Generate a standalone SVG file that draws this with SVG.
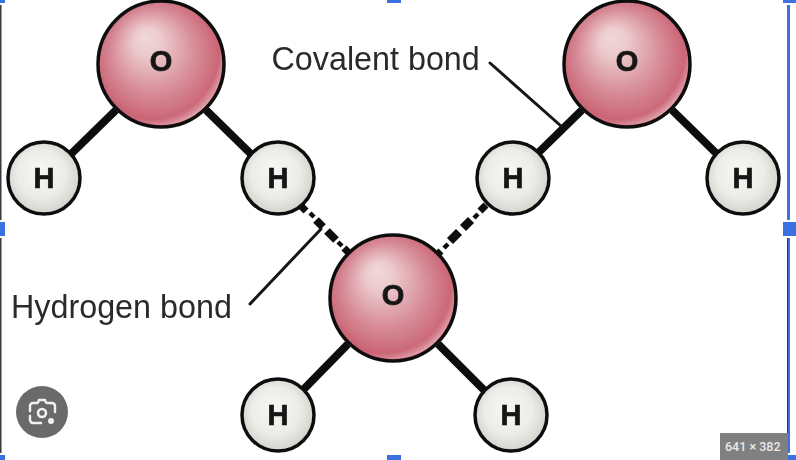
<svg xmlns="http://www.w3.org/2000/svg" width="796" height="460" viewBox="0 0 796 460">
<style>
.o{fill:url(#og);stroke:#111;stroke-width:3.5}
.orim{fill:url(#orim)}
.h{fill:url(#hg);stroke:#111;stroke-width:3.5}
.bond{stroke:#0c0c0c;stroke-width:8;stroke-linecap:butt}
.leader{stroke:#151515;stroke-width:3;stroke-linecap:round;fill:none}
.atom{font-family:"Liberation Sans",Arial,sans-serif;font-weight:700;font-size:29px;fill:#151515;stroke:#151515;stroke-width:0.7;text-anchor:middle}
.label{font-family:"Liberation Sans",Arial,sans-serif;font-size:32.3px;fill:#2c2c2c}
.handle{fill:#3a70e0}
.edge{fill:#3a3a3a}
</style>
<defs>
<radialGradient id="og" cx="0.5" cy="0.5" r="0.62" fx="0.37" fy="0.28">
<stop offset="0" stop-color="#f0d8da"/>
<stop offset="0.18" stop-color="#eccacd"/>
<stop offset="0.55" stop-color="#d68a96"/>
<stop offset="0.85" stop-color="#c85c6e"/>
<stop offset="1" stop-color="#c4566a"/>
</radialGradient>
<radialGradient id="orim" cx="0.42" cy="0.4" r="0.66">
<stop offset="0.84" stop-color="#f2d8da" stop-opacity="0"/>
<stop offset="1" stop-color="#f2d8da" stop-opacity="0.85"/>
</radialGradient>
<radialGradient id="hg" cx="0.5" cy="0.5" r="0.6" fx="0.42" fy="0.36">
<stop offset="0" stop-color="#f6f6f3"/>
<stop offset="0.55" stop-color="#ecece8"/>
<stop offset="1" stop-color="#c9c9c3"/>
</radialGradient>
<filter id="soft" x="-5%" y="-5%" width="110%" height="110%"><feGaussianBlur stdDeviation="0.55"/></filter>
</defs>
<rect width="796" height="460" fill="#fff"/>
<g filter="url(#soft)">
<g id="connectors">
<line class="bond" x1="116" y1="110" x2="71" y2="154"/>
<line class="bond" x1="206" y1="110" x2="252" y2="155"/>
<line class="bond" x1="582" y1="110" x2="537" y2="154"/>
<line class="bond" x1="672" y1="110" x2="718" y2="155"/>
<line class="bond" x1="348" y1="344" x2="303" y2="390"/>
<line class="bond" x1="438" y1="344" x2="485" y2="391"/>
<g id="hbond-left" stroke="#0c0c0c">
<line x1="300" y1="205" x2="306" y2="211" stroke-width="7"/>
<line x1="310" y1="213" x2="314" y2="217" stroke-width="4.5"/>
<line x1="316" y1="220" x2="323" y2="227" stroke-width="8"/>
<line x1="327" y1="231" x2="336" y2="240" stroke-width="8"/>
<line x1="338" y1="242" x2="342" y2="246" stroke-width="4.5"/>
<line x1="344" y1="248" x2="350" y2="254" stroke-width="7"/>
</g>
<g id="hbond-right" stroke="#0c0c0c">
<line x1="486" y1="205" x2="480" y2="211" stroke-width="7"/>
<line x1="478" y1="214" x2="474" y2="218" stroke-width="4.5"/>
<line x1="471" y1="220" x2="463" y2="228" stroke-width="8.5"/>
<line x1="459" y1="232" x2="450" y2="241" stroke-width="8.5"/>
<line x1="448" y1="244" x2="444" y2="248" stroke-width="4.5"/>
<line x1="441" y1="251" x2="436" y2="256" stroke-width="7"/>
</g>
<line class="leader" x1="490" y1="63" x2="561" y2="126"/>
<line class="leader" x1="250" y1="304" x2="321" y2="229"/>
</g>
<g id="o-top-left"><circle class="o" cx="161" cy="64" r="63"/><circle class="orim" cx="161" cy="64" r="61"/><text class="atom" x="161" y="71">O</text></g>
<g id="h-top-left-1"><circle class="h" cx="44" cy="178" r="36"/><text class="atom" x="44" y="188">H</text></g>
<g id="h-top-left-2"><circle class="h" cx="278" cy="178" r="36"/><text class="atom" x="278" y="188">H</text></g>
<g id="o-top-right"><circle class="o" cx="627" cy="64" r="63"/><circle class="orim" cx="627" cy="64" r="61"/><text class="atom" x="627" y="71">O</text></g>
<g id="h-top-right-1"><circle class="h" cx="513" cy="178" r="36"/><text class="atom" x="513" y="188">H</text></g>
<g id="h-top-right-2"><circle class="h" cx="743" cy="178" r="36"/><text class="atom" x="743" y="188">H</text></g>
<g id="o-center"><circle class="o" cx="393" cy="298" r="63"/><circle class="orim" cx="393" cy="298" r="61"/><text class="atom" x="393" y="305">O</text></g>
<g id="h-bottom-1"><circle class="h" cx="278" cy="415" r="36"/><text class="atom" x="278" y="425">H</text></g>
<g id="h-bottom-2"><circle class="h" cx="511" cy="415" r="36"/><text class="atom" x="511" y="425">H</text></g>
<g id="labels">
<text class="label" x="271.5" y="70">Covalent bond</text>
<text class="label" x="11" y="318">Hydrogen bond</text>
</g>
</g>
<g id="selection-frame">
<rect class="edge" x="0" y="5" width="1.5" height="215"/>
<rect class="edge" x="0" y="238" width="1.5" height="215"/>
<rect class="handle" x="787" y="5" width="3" height="215"/>
<rect class="handle" x="787" y="238" width="3" height="215"/>
<rect class="edge" x="787" y="238" width="1" height="215"/>
<rect class="handle" x="0" y="0" width="5" height="3"/>
<rect class="handle" x="387" y="0" width="14" height="3"/>
<rect class="handle" x="783" y="0" width="13" height="3"/>
<rect class="handle" x="0" y="222" width="5" height="14"/>
<rect class="handle" x="783" y="222" width="13" height="14"/>
<rect class="handle" x="0" y="455" width="5" height="5"/>
<rect class="handle" x="387" y="455" width="14" height="5"/>
<rect class="handle" x="783" y="455" width="13" height="5"/>
</g>
<g id="lens-button">
<circle cx="42" cy="412" r="26" fill="#6a6a6a"/>
<path d="M37 403h-4a3 3 0 0 0-3 3v5M47 403h5a3 3 0 0 1 3 3v6M30 416v4a3 3 0 0 0 3 3h8M38 402.500l1-2.500h6l1 2.500" fill="none" stroke="#f2f2f2" stroke-width="2.4" stroke-linecap="round"/>
<circle cx="42" cy="413" r="4" fill="none" stroke="#f2f2f2" stroke-width="2.6"/>
<circle cx="51" cy="421" r="3" fill="#f2f2f2"/>
</g>
<g id="size-badge">
<rect x="720" y="433" width="68" height="27" fill="#808080"/>
<text x="725" y="451" font-family="Roboto,'Liberation Sans',sans-serif" font-size="12.5" font-weight="500" fill="#e8e8e8">641 × 382</text>
</g>
</svg>
